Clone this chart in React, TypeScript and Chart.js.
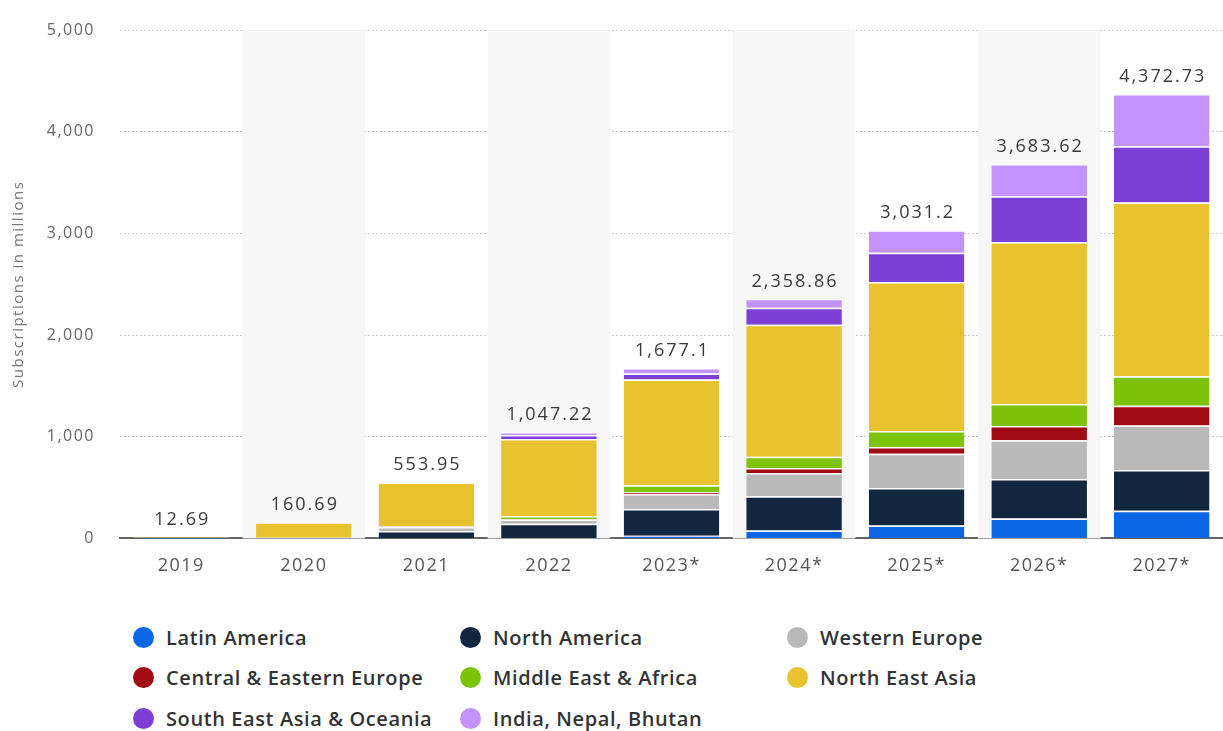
import React, { useEffect, useRef } from "react";
import { Chart, registerables } from "chart.js";

Chart.register(...registerables);

const categories = ["2019", "2020", "2021", "2022", "2023*", "2024*", "2025*", "2026*", "2027*"];

const latinAmerica = [0.2, 0.5, 3, 5, 27, 78, 128, 197, 272];
const northAmerica = [1.5, 3, 70, 140, 262, 336, 369, 387, 400];
const westernEurope = [0.8, 2, 40, 40, 147, 229, 336, 381, 440];
const centralEasternEurope = [0.1, 0.3, 2, 6, 15, 50, 66, 142, 193];
const middleEastAfrica = [0.3, 0.8, 4, 28, 72, 110, 158, 215, 291];
const northEastAsia = [9.5, 153, 430, 760, 1040, 1298, 1465, 1593, 1708];
const southEastAsiaOceania = [0.2, 0.8, 3, 38, 60, 168, 288, 452, 555];
const indiaNepalBhutan = [0.09, 0.29, 1.95, 30.22, 54.1, 89.86, 221.2, 316.62, 513.73];

const yTicks = [0, 1000, 2000, 3000, 4000, 5000];

const seriesNames = [
  "Latin America",
  "North America",
  "Western Europe",
  "Central & Eastern Europe",
  "Middle East & Africa",
  "North East Asia",
  "South East Asia & Oceania",
  "India, Nepal, Bhutan",
];
const seriesColors = ["#0a66e4", "#12263f", "#b9b9b9", "#a00a13", "#7dc30a", "#e9c22f", "#7d3fd6", "#c392fb"];
const seriesValues = [
  latinAmerica,
  northAmerica,
  westernEurope,
  centralEasternEurope,
  middleEastAfrica,
  northEastAsia,
  southEastAsiaOceania,
  indiaNepalBhutan,
];

const totals = categories.map((_, i) =>
  Math.round(seriesValues.reduce((s, arr) => s + arr[i], 0) * 100) / 100
);

const legendOrder = [0, 1, 2, 3, 4, 5, 6, 7];

const FONT = "'Open Sans', 'Noto Sans', sans-serif";

export default function App() {
  const ref = useRef<HTMLCanvasElement | null>(null);

  useEffect(() => {
    if (!ref.current) return;
    document.body.style.margin = "0";

    const spacingPlugin = {
      id: "spacing",
      beforeInit(chart: any) {
        chart.ctx.letterSpacing = "1.5px";
      },
      beforeUpdate(chart: any) {
        chart.ctx.letterSpacing = "1.5px";
      },
      beforeDraw(chart: any) {
        chart.ctx.letterSpacing = "1.5px";
      },
    };

    const bandPlugin = {
      id: "bands",
      beforeDatasetsDraw(chart: any) {
        const { ctx, chartArea, scales } = chart;
        const x = scales.x;
        const w = (chartArea.right - chartArea.left) / categories.length;
        ctx.save();
        ctx.fillStyle = "#f7f7f7";
        categories.forEach((_, i) => {
          if (i % 2 === 1) {
            const cx = x.getPixelForValue(i);
            ctx.fillRect(cx - w / 2, chartArea.top, w, chartArea.bottom - chartArea.top);
          }
        });
        ctx.restore();
      },
    };

    const totalPlugin = {
      id: "totals",
      afterDatasetsDraw(chart: any) {
        const { ctx, scales } = chart;
        ctx.save();
        ctx.letterSpacing = "2px";
        ctx.font = `18px ${FONT}`;
        ctx.fillStyle = "#3a3a3a";
        ctx.textAlign = "center";
        ctx.textBaseline = "bottom";
        totals.forEach((t, i) => {
          const cx = scales.x.getPixelForValue(i) + 1;
          const cy = scales.y.getPixelForValue(t);
          ctx.fillText(t.toLocaleString("en-US", { maximumFractionDigits: 2 }), cx, cy - 8);
        });
        ctx.restore();
      },
    };

    const chart = new Chart(ref.current, {
      type: "bar",
      data: {
        labels: categories,
        datasets: seriesValues.map((vals, k) => ({
          label: seriesNames[k],
          data: vals,
          backgroundColor: seriesColors[k],
          borderColor: "#ffffff",
          borderWidth: { top: 1.5, left: 0, right: 0, bottom: 0 },
          borderSkipped: "start",
          categoryPercentage: 1,
          barPercentage: 0.78,
        })),
      },
      options: {
        animation: false,
        responsive: false,
        maintainAspectRatio: false,
        layout: { padding: { top: 15, right: 0, bottom: 0, left: 0 } },
        plugins: {
          legend: { display: false },
          tooltip: { enabled: false },
        },
        scales: {
          x: {
            stacked: true,
            grid: { display: false, drawTicks: false },
            border: { display: true, color: "#666666", width: 2 },
            ticks: { color: "#555555", font: { family: FONT, size: 18 }, padding: 17 },
          },
          y: {
            stacked: true,
            min: 0,
            max: 5000,
            afterBuildTicks(scale: any) {
              scale.ticks = yTicks.map((v) => ({ value: v }));
            },
            afterFit(scale: any) {
              scale.width = 120;
            },
            grid: {
              color: (c: any) => (c.tick && c.tick.value === 0 ? "rgba(0,0,0,0)" : "#c8c8c8"),
              drawTicks: false,
              lineWidth: 1,
            },
            border: { display: false, dash: [2, 2] },
            ticks: {
              color: "#666666",
              font: { family: FONT, size: 16, lineHeight: 0.65 },
              padding: 25,
              callback: (v: any) => Number(v).toLocaleString("en-US"),
            },
            title: {
              display: true,
              text: "Subscriptions in millions",
              color: "#777777",
              font: { family: FONT, size: 15 },
              padding: { top: 10, bottom: 0 },
            },
          },
        },
      },
      plugins: [spacingPlugin, bandPlugin, totalPlugin],
    } as any);

    return () => chart.destroy();
  }, []);

  return (
    <div style={{ position: "absolute", left: 0, top: 0, width: 1223, height: 731, background: "#fff", fontFamily: FONT }}>
      <canvas ref={ref} width={1223} height={594} style={{ display: "block" }} />
      {legendOrder.map((k, idx) => {
        const col = idx % 3;
        const row = Math.floor(idx / 3);
        const left = [133, 460, 787][col];
        const top = [637, 677, 718][row];
        return (
          <div
            key={k}
            style={{
              position: "absolute",
              left,
              top: top - 14,
              height: 28,
              display: "flex",
              alignItems: "center",
              whiteSpace: "nowrap",
            }}
          >
            <span
              style={{
                display: "inline-block",
                width: 21,
                height: 21,
                borderRadius: "50%",
                background: seriesColors[k],
                marginRight: 12,
              }}
            />
            <span style={{ fontSize: 20, fontWeight: 600, color: "#333333", letterSpacing: "0.6px" }}>
              {seriesNames[k]}
            </span>
          </div>
        );
      })}
    </div>
  );
}
